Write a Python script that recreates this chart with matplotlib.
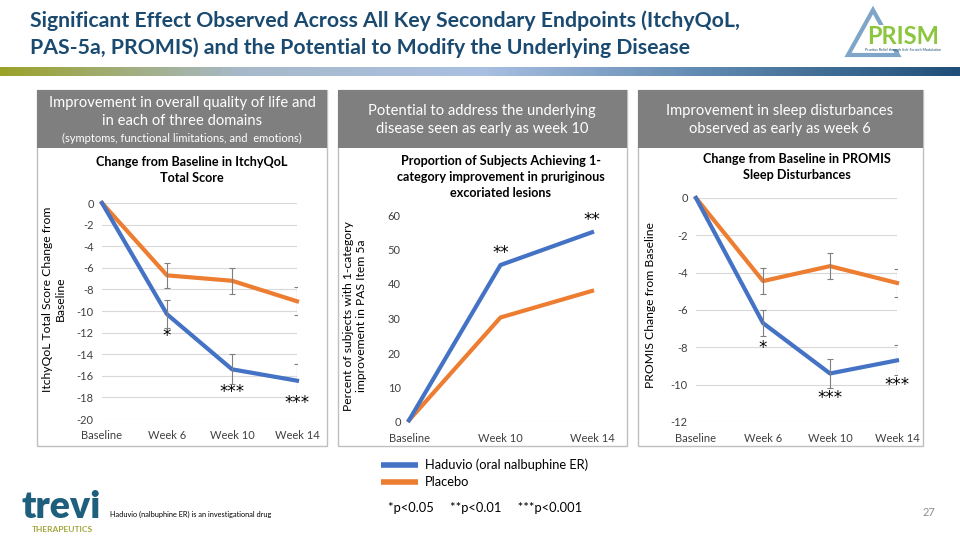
import numpy as np
import matplotlib.pyplot as plt
from matplotlib.colors import LinearSegmentedColormap
from matplotlib.patches import Rectangle, Polygon

plt.rcParams['font.family'] = ['Lato', 'DejaVu Sans']
plt.rcParams['axes.unicode_minus'] = False

# --- data ---
qol_cats = ['Baseline', 'Week 6', 'Week 10', 'Week 14']
qol_haduvio = [0, -10.3, -15.4, -16.45]
qol_placebo = [0, -6.7, -7.2, -9.1]
qol_haduvio_err = [0, 1.3, 1.4, 1.55]
qol_placebo_err = [0, 1.15, 1.2, 1.3]
qol_stars = ['', '*', '***', '***']
qol_yticks = list(range(-20, 1, 2))

pas_cats = ['Baseline', 'Week 10', 'Week 14']
pas_haduvio = [0.5, 45.5, 55.0]
pas_placebo = [0.5, 30.3, 38.0]
pas_stars = ['', '**', '**']
pas_yticks = list(range(0, 61, 10))

promis_cats = ['Baseline', 'Week 6', 'Week 10', 'Week 14']
promis_haduvio = [0, -6.7, -9.4, -8.7]
promis_placebo = [0, -4.45, -3.65, -4.55]
promis_haduvio_err = [0, 0.7, 0.78, 0.8]
promis_placebo_err = [0, 0.68, 0.68, 0.73]
promis_stars = ['', '*', '***', '***']
promis_yticks = list(range(-12, 1, 2))

BLUE = '#4472c4'
ORANGE = '#ed7d31'
GRID = '#d9d9d9'
TXT = '#404040'
TITLE = '#1b4a70'

fig = plt.figure(figsize=(9.6, 5.4), dpi=100)
bg = fig.add_axes([0, 0, 1, 1])
bg.set_xlim(0, 960)
bg.set_ylim(540, 0)
bg.axis('off')


def px_axes(l, t, r, b):
    return fig.add_axes([l / 960, 1 - b / 540, (r - l) / 960, (b - t) / 540])


# title
bg.text(30, 21, 'Significant Effect Observed Across All Key Secondary Endpoints (ItchyQoL,',
        fontsize=15.35, weight='bold', color=TITLE, va='center')
bg.text(30, 48, 'PAS-5a, PROMIS) and the Potential to Modify the Underlying Disease',
        fontsize=15.35, weight='bold', color=TITLE, va='center')

# gradient bar
cmap = LinearSegmentedColormap.from_list('bar', ['#9ba22a', '#a7b9c9', '#a9c0e2', '#5c86ad', '#1f4f78'])
grad = np.linspace(0, 1, 512).reshape(1, -1)
bg.imshow(grad, cmap=cmap, extent=[0, 960, 76, 67], aspect='auto')

# PRISM logo
bg.add_patch(Polygon([(848, 55), (873, 10), (898, 55)], closed=True, fill=False,
                     edgecolor='#7fa6c8', lw=3, joinstyle='miter'))
bg.text(903, 37, 'PRISM', fontsize=17, weight='bold', color='#8cc63f', ha='center', va='center',
        bbox=dict(facecolor='white', edgecolor='none', pad=0.3))
bg.text(903, 50, 'Pruritus Relief through Itch-Scratch Modulation', fontsize=2.6,
        color='#1b4a70', ha='center', va='center')

# panels: boxes and headers
boxes = [(37, 327), (338, 627), (638, 923)]
for l, r in boxes:
    bg.add_patch(Rectangle((l, 90), r - l, 356, facecolor='white', edgecolor='#bfbfbf', lw=1))
    bg.add_patch(Rectangle((l, 90), r - l, 58, facecolor='#7f7f7f', edgecolor='none'))

HS = 10.6
bg.text(182, 103, 'Improvement in overall quality of life and', fontsize=HS, color='white', ha='center', va='center')
bg.text(182, 121, 'in each of three domains', fontsize=HS, color='white', ha='center', va='center')
bg.text(182, 138, '(symptoms, functional limitations, and  emotions)', fontsize=8, color='white', ha='center', va='center')
bg.text(482, 111, 'Potential to address the underlying', fontsize=HS, color='white', ha='center', va='center')
bg.text(482, 129, 'disease seen as early as week 10', fontsize=HS, color='white', ha='center', va='center')
bg.text(780, 111, 'Improvement in sleep disturbances', fontsize=HS, color='white', ha='center', va='center')
bg.text(780, 129, 'observed as early as week 6', fontsize=HS, color='white', ha='center', va='center')

# chart titles
bg.text(192, 170, 'Change from Baseline in ItchyQoL\nTotal Score', fontsize=9.1, weight='bold',
        color='black', ha='center', va='center', linespacing=1.3)
bg.text(501, 177, 'Proportion of Subjects Achieving 1-\ncategory improvement in pruriginous\nexcoriated lesions',
        fontsize=9.1, weight='bold', color='black', ha='center', va='center', linespacing=1.4)
bg.text(797, 167, 'Change from Baseline in PROMIS\nSleep Disturbances', fontsize=9.1, weight='bold',
        color='black', ha='center', va='center', linespacing=1.4)

# y labels
bg.text(54, 299, 'ItchyQoL Total Score Change from\nBaseline', rotation=90, fontsize=8.7,
        color='black', ha='center', va='center', linespacing=1.3)
bg.text(355, 316, 'Percent of subjects with 1-category\nimprovement in PAS Item 5a', rotation=90,
        fontsize=8.7, color='black', ha='center', va='center', linespacing=1.3)
bg.text(650, 305, 'PROMIS Change from Baseline', rotation=90, fontsize=8.7,
        color='black', ha='center', va='center')


def draw_panel(ax, cats, had, pla, had_err, pla_err, stars, ylim, yticks, star_dy, grid=True):
    x = np.arange(len(cats))
    ax.set_facecolor('none')
    ax.plot(x, pla, color=ORANGE, lw=3, clip_on=False, zorder=3)
    ax.plot(x, had, color=BLUE, lw=3, clip_on=False, zorder=3)
    if had_err is not None:
        ax.errorbar(x[1:], pla[1:], yerr=pla_err[1:], fmt='none', ecolor='#7f7f7f',
                    elinewidth=0.8, capsize=2.2, capthick=0.8, zorder=4)
        ax.errorbar(x[1:], had[1:], yerr=had_err[1:], fmt='none', ecolor='#7f7f7f',
                    elinewidth=0.8, capsize=2.2, capthick=0.8, zorder=4)
    for xi, yi, s in zip(x, had, stars):
        if s:
            ax.annotate(s, (xi, yi), xytext=(0, star_dy), textcoords='offset points',
                        ha='center', va='center', fontsize=12, color='black',
                        family='DejaVu Sans', annotation_clip=False)
    ax.set_xlim(0, len(cats) - 1)
    ax.set_ylim(ylim)
    ax.set_yticks(yticks)
    ax.set_xticks(x)
    ax.set_xticklabels(cats)
    for s in ax.spines.values():
        s.set_visible(False)
    ax.tick_params(length=0, colors=TXT, labelsize=8)
    ax.tick_params(axis='y', pad=6)
    ax.tick_params(axis='x', pad=8)
    if grid:
        ax.yaxis.grid(True, color=GRID, lw=0.8)
    else:
        ax.axhline(ylim[0], color=GRID, lw=0.8, zorder=1)
    ax.set_axisbelow(True)


ax1 = px_axes(102, 203, 297, 419)
draw_panel(ax1, qol_cats, qol_haduvio, qol_placebo, qol_haduvio_err, qol_placebo_err,
           qol_stars, (-20, 0), qol_yticks, -16)

ax2 = px_axes(409, 215, 592, 422)
draw_panel(ax2, pas_cats, pas_haduvio, pas_placebo, None, None,
           pas_stars, (0, 60), pas_yticks, 9, grid=False)

ax3 = px_axes(696, 198, 897, 422)
draw_panel(ax3, promis_cats, promis_haduvio, promis_placebo, promis_haduvio_err, promis_placebo_err,
           promis_stars, (-12, 0), promis_yticks, -18)

# legend
bg.plot([381, 418], [465, 465], color=BLUE, lw=4, solid_capstyle='butt')
bg.plot([381, 418], [482, 482], color=ORANGE, lw=4, solid_capstyle='butt')
bg.text(425, 465, 'Haduvio (oral nalbuphine ER)', fontsize=9.3, color='black', va='center')
bg.text(425, 482, 'Placebo', fontsize=9.3, color='black', va='center')
bg.text(388, 508, '*p<0.05     **p<0.01     ***p<0.001', fontsize=9.3, color='black', va='center')

# trevi logo and footer
bg.text(21, 524, 'trevi', fontsize=27, weight='heavy', color='#1e5f7e', va='bottom')
bg.text(62, 530, 'THERAPEUTICS', fontsize=6, weight='bold', color='#a3a63a', ha='center', va='center')
bg.text(110, 514, 'Haduvio (nalbuphine ER) is an investigational drug', fontsize=5.3,
        color='black', va='center')
bg.text(935, 512, '27', fontsize=8, color='#8c8c8c', ha='right', va='center')

fig.savefig('out.png', dpi=100)
